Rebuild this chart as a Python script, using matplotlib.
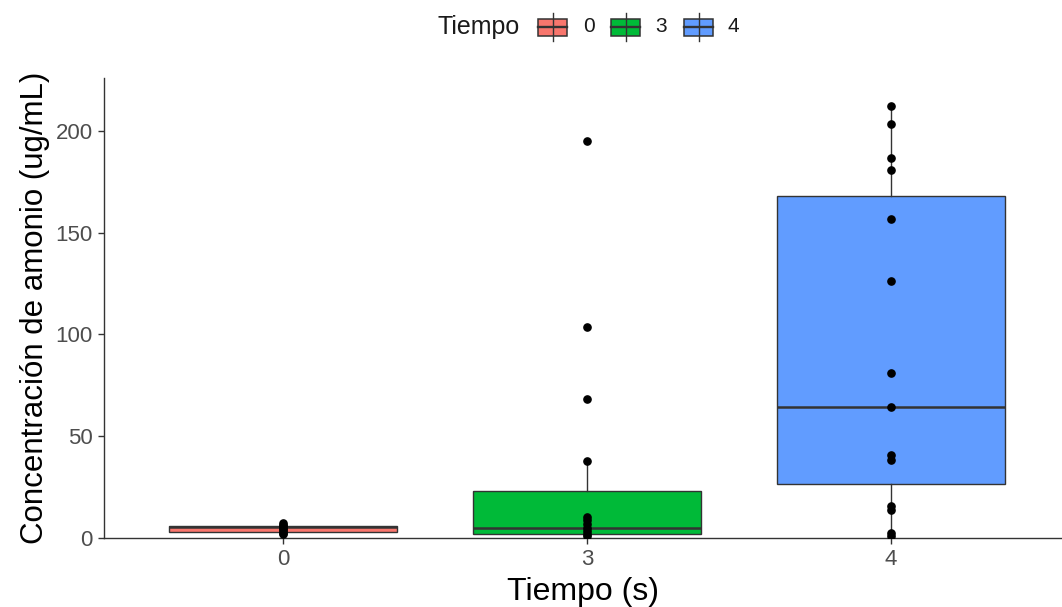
import numpy as np
import matplotlib.pyplot as plt
from matplotlib.patches import Rectangle
from matplotlib.lines import Line2D

plt.rcParams['font.family'] = ['Liberation Sans', 'DejaVu Sans']

########## DATA #############
groups = ['0', '3', '4']
colors = ['#F8766D', '#00BA38', '#619CFF']

# box stats
q1 = [2.9, 2.0, 26.5]
med = [5.3, 4.9, 64.4]
q3 = [5.8, 23.3, 168.0]
whislo = [1.5, 0.5, 1.0]
whishi = [7.2, 38.0, 212.5]

# individual measurements (drawn as points on top)
pts_0 = [7.5, 6.6, 5.8, 5.0, 4.3, 3.5, 2.6, 1.8]
pts_3 = [195.1, 103.5, 68.2, 38.0, 10.5, 9.0, 7.0, 5.0, 3.5, 2.0, 0.8]
pts_4 = [212.4, 203.4, 186.6, 180.8, 156.6, 126.3, 81.0, 64.4, 40.8, 38.3,
         15.7, 13.8, 2.5, 1.2]
points = [pts_0, pts_3, pts_4]

edge = '#333333'

fig = plt.figure(figsize=(10.62, 6.07), dpi=100)
ax = fig.add_axes([104/1062, 69/607, 958/1062, 460/607])

stats = []
for i in range(3):
    stats.append({'q1': q1[i], 'med': med[i], 'q3': q3[i],
                  'whislo': whislo[i], 'whishi': whishi[i], 'fliers': []})

bp = ax.bxp(stats, positions=[0, 1, 2], widths=0.75, patch_artist=True,
            showcaps=False, showfliers=False,
            boxprops=dict(edgecolor=edge, linewidth=1.0),
            whiskerprops=dict(color=edge, linewidth=1.0),
            medianprops=dict(color=edge, linewidth=1.8))
for patch, c in zip(bp['boxes'], colors):
    patch.set_facecolor(c)

for i, p in enumerate(points):
    ax.plot(np.full(len(p), i), p, 'o', color='black', markersize=5.2,
            zorder=5)

ax.set_xlim(-0.589, 2.5625)
ax.set_ylim(0, 226)
ax.set_xticks([0, 1, 2])
ax.set_xticklabels(groups)
ax.set_yticks([0, 50, 100, 150, 200])
ax.tick_params(axis='both', labelsize=16, colors=edge, labelcolor='#4D4D4D',
               length=4.5, width=1.0, pad=3.5)
for s in ['top', 'right']:
    ax.spines[s].set_visible(False)
for s in ['left', 'bottom']:
    ax.spines[s].set_color(edge)
    ax.spines[s].set_linewidth(1.0)

ax.set_xlabel('Tiempo (s)', fontsize=23, labelpad=5)
ax.set_ylabel('Concentración de amonio (ug/mL)', fontsize=22.5, labelpad=4)

# legend on top, drawn by hand as ggplot box glyphs
W, H = 1062.0, 607.0
fig.text(438/W, 1 - 27/H, 'Tiempo', fontsize=18, va='center', ha='left',
         color='#1A1A1A')
key_x = [538, 611, 684]
lab_x = [583, 655, 728]
yc = 27
for kx, lx, c, g in zip(key_x, lab_x, colors, groups):
    fig.add_artist(Line2D([(kx + 14.5)/W]*2, [1 - (yc - 14)/H, 1 - (yc + 14)/H],
                          color=edge, lw=1.0))
    fig.add_artist(Rectangle((kx/W, 1 - (yc + 8.5)/H), 29/W, 17/H,
                             facecolor=c, edgecolor=edge, lw=1.1,
                             transform=fig.transFigure))
    fig.add_artist(Line2D([kx/W, (kx + 29)/W], [1 - yc/H]*2, color=edge, lw=1.7))
    fig.text(lx/W, 1 - yc/H, g, fontsize=15, va='center', ha='left',
             color='#1A1A1A')

plt.savefig('out.png')
